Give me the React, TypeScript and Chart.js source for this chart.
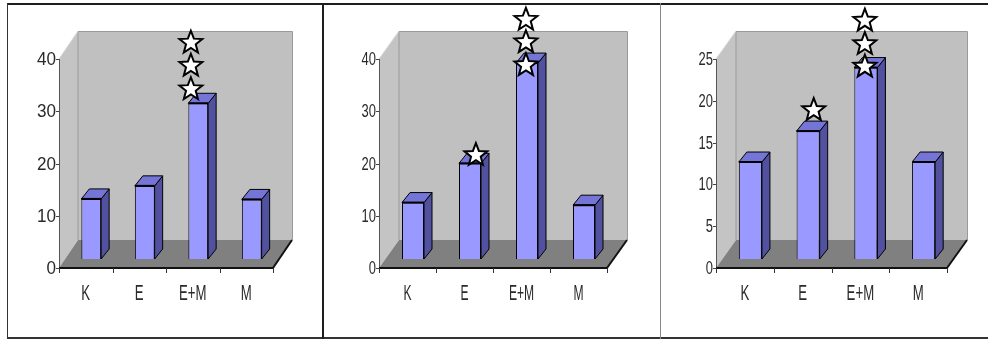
import React, { useEffect, useRef } from 'react';
import { Chart, registerables } from 'chart.js';

Chart.register(...registerables);

// Shared categories
const categories = ['K', 'E', 'E+M', 'M'];

// Bar values per panel
const valuesA = [11.5, 14.0, 29.8, 11.4];
const valuesB = [10.8, 18.3, 37.5, 10.3];
const valuesC = [11.6, 15.3, 22.9, 11.6];

// Value axis ranges
const axisMaxA = 40;
const axisStepA = 10;
const axisMaxB = 40;
const axisStepB = 10;
const axisMaxC = 25;
const axisStepC = 5;

// Star markers (x in category units, y in value units)
const starsA = [
  { x: 2.12, y: 34.4 },
  { x: 2.12, y: 38.9 },
  { x: 2.12, y: 43.3 },
];
const starsB = [
  { x: 1.1, y: 21.8 },
  { x: 2.27, y: 39.0 },
  { x: 2.27, y: 43.4 },
  { x: 2.27, y: 47.7 },
];
const starsC = [
  { x: 1.09, y: 19.0 },
  { x: 2.27, y: 24.2 },
  { x: 2.27, y: 26.9 },
  { x: 2.27, y: 29.7 },
];

type PanelSpec = {
  left: number;
  width: number;
  values: number[];
  stars: { x: number; y: number }[];
  max: number;
  step: number;
  pad: { left: number; right: number; top: number; bottom: number };
  barPct: number;
  wall: [number, number];
  yLabelScale: number;
  xLabelScale: number;
};

const panels: PanelSpec[] = [
  {
    left: 8, width: 314, values: valuesA, stars: starsA, max: axisMaxA, step: axisStepA,
    pad: { left: 51, right: 49, top: 59, bottom: 71 }, barPct: 0.37, wall: [19, -28],
    yLabelScale: 0.95, xLabelScale: 0.6,
  },
  {
    left: 324, width: 336, values: valuesB, stars: starsB, max: axisMaxB, step: axisStepB,
    pad: { left: 55, right: 53, top: 59, bottom: 71 }, barPct: 0.386, wall: [20, -28],
    yLabelScale: 0.72, xLabelScale: 0.55,
  },
  {
    left: 661, width: 327, values: valuesC, stars: starsC, max: axisMaxC, step: axisStepC,
    pad: { left: 55, right: 41, top: 59, bottom: 71 }, barPct: 0.4, wall: [20, -28],
    yLabelScale: 0.72, xLabelScale: 0.6,
  },
];

// Offset of the bar row inside the floor depth, and the bars' own depth
const BAR_SHIFT: [number, number] = [5.5, -9];
const BAR_DEPTH: [number, number] = [8, -10];

function makePattern(ctx: CanvasRenderingContext2D, a: string, b: string) {
  const c = document.createElement('canvas');
  c.width = 2;
  c.height = 2;
  const g = c.getContext('2d')!;
  g.fillStyle = a;
  g.fillRect(0, 0, 2, 2);
  g.fillStyle = b;
  g.fillRect(0, 0, 1, 1);
  g.fillRect(1, 1, 1, 1);
  return ctx.createPattern(c, 'repeat')!;
}

function drawStar(ctx: CanvasRenderingContext2D, cx: number, cy: number) {
  const R = 12;
  const r = 5.1;
  ctx.beginPath();
  for (let i = 0; i < 10; i++) {
    const ang = -Math.PI / 2 + (i * Math.PI) / 5;
    const rad = i % 2 === 0 ? R : r;
    const px = cx + rad * Math.cos(ang);
    const py = cy + 1 + rad * Math.sin(ang);
    if (i === 0) ctx.moveTo(px, py);
    else ctx.lineTo(px, py);
  }
  ctx.closePath();
  ctx.fillStyle = '#ffffff';
  ctx.fill();
  ctx.lineWidth = 2;
  ctx.strokeStyle = '#000000';
  ctx.lineJoin = 'miter';
  ctx.stroke();
}

const scene3d = {
  id: 'scene3d',
  beforeDatasetsDraw(chart: any, _args: any, opts: any) {
    const ctx: CanvasRenderingContext2D = chart.ctx;
    const { left: L, right: R, top: T, bottom: B } = chart.chartArea;
    const [wx, wy] = opts.wall;
    ctx.save();

    // side wall
    ctx.fillStyle = '#c4c4c4';
    ctx.beginPath();
    ctx.moveTo(L, T);
    ctx.lineTo(L + wx, T + wy);
    ctx.lineTo(L + wx, B + wy);
    ctx.lineTo(L, B);
    ctx.closePath();
    ctx.fill();

    // back wall
    ctx.fillStyle = '#c0c0c0';
    ctx.fillRect(L + wx, T + wy, R - L, B - T);
    ctx.strokeStyle = '#9a9a9a';
    ctx.lineWidth = 1;
    ctx.beginPath();
    ctx.moveTo(L + wx, B + wy);
    ctx.lineTo(L + wx, T + wy + 0.5);
    ctx.lineTo(R + wx + 0.5, T + wy + 0.5);
    ctx.lineTo(R + wx + 0.5, B + wy);
    ctx.stroke();

    // side wall top edge
    ctx.strokeStyle = '#d8d8d8';
    ctx.beginPath();
    ctx.moveTo(L, T);
    ctx.lineTo(L + wx, T + wy);
    ctx.stroke();

    // floor
    ctx.fillStyle = '#808080';
    ctx.beginPath();
    ctx.moveTo(L, B);
    ctx.lineTo(L + wx, B + wy);
    ctx.lineTo(R + wx, B + wy);
    ctx.lineTo(R, B);
    ctx.closePath();
    ctx.fill();

    // floor right edge
    ctx.strokeStyle = '#111';
    ctx.lineWidth = 2;
    ctx.beginPath();
    ctx.moveTo(R, B);
    ctx.lineTo(R + wx, B + wy);
    ctx.stroke();

    // value axis
    ctx.strokeStyle = '#555';
    ctx.lineWidth = 1;
    ctx.beginPath();
    ctx.moveTo(L + 0.5, T);
    ctx.lineTo(L + 0.5, B);
    ctx.stroke();

    // category axis
    ctx.strokeStyle = '#111';
    ctx.lineWidth = 2;
    ctx.beginPath();
    ctx.moveTo(L, B);
    ctx.lineTo(R, B);
    ctx.stroke();

    const yScale = chart.scales.y;
    const xScale = chart.scales.x;

    // value ticks and labels
    ctx.lineWidth = 1;
    ctx.strokeStyle = '#444';
    ctx.fillStyle = '#2a2a2a';
    ctx.font = '18px "Liberation Sans", Arial, sans-serif';
    ctx.textAlign = 'right';
    ctx.textBaseline = 'middle';
    yScale.ticks.forEach((t: any) => {
      const py = Math.round(yScale.getPixelForValue(t.value)) + 0.5;
      ctx.beginPath();
      ctx.moveTo(L - 3, py);
      ctx.lineTo(L, py);
      ctx.stroke();
      ctx.save();
      ctx.translate(L - 3, py + 1);
      ctx.scale(opts.yLabelScale, 1);
      ctx.fillText(String(t.value), 0, 0);
      ctx.restore();
    });

    // category boundaries and labels
    const n = chart.data.labels.length;
    const half = (R - L) / (2 * n);
    ctx.strokeStyle = '#333';
    for (let i = 0; i <= n; i++) {
      const px = Math.round(xScale.getPixelForValue(Math.min(i, n - 1)) + (i === n ? half : -half)) + 0.5;
      ctx.beginPath();
      ctx.moveTo(px, B);
      ctx.lineTo(px, B + 5);
      ctx.stroke();
    }
    ctx.font = '22px "Liberation Sans", Arial, sans-serif';
    ctx.textAlign = 'center';
    ctx.textBaseline = 'alphabetic';
    chart.data.labels.forEach((lab: string, i: number) => {
      const px = xScale.getPixelForValue(i);
      ctx.save();
      ctx.translate(px, B + 32);
      ctx.scale(opts.xLabelScale, 1);
      ctx.fillText(lab, 0, 0);
      ctx.restore();
    });

    ctx.restore();
  },
  beforeDatasetDraw(chart: any, args: any) {
    if (args.index !== 0) return;
    chart.ctx.save();
    chart.ctx.translate(BAR_SHIFT[0], BAR_SHIFT[1]);
  },
  afterDatasetDraw(chart: any, args: any) {
    if (args.index !== 0) return;
    const ctx: CanvasRenderingContext2D = chart.ctx;
    const sidePat = makePattern(ctx, '#3f3f8e', '#6464b0');
    const topPat = makePattern(ctx, '#6a6acc', '#8080e4');
    const [dx, dy] = BAR_DEPTH;
    args.meta.data.forEach((el: any) => {
      const l = el.x - el.width / 2;
      const r = el.x + el.width / 2;
      const t = el.y;
      const b = el.base;
      ctx.lineWidth = 1;
      ctx.strokeStyle = '#000';
      // side face
      ctx.fillStyle = sidePat;
      ctx.beginPath();
      ctx.moveTo(r, t);
      ctx.lineTo(r + dx, t + dy);
      ctx.lineTo(r + dx, b + dy);
      ctx.lineTo(r, b);
      ctx.closePath();
      ctx.fill();
      ctx.stroke();
      // top face
      ctx.fillStyle = topPat;
      ctx.beginPath();
      ctx.moveTo(l, t);
      ctx.lineTo(l + dx, t + dy);
      ctx.lineTo(r + dx, t + dy);
      ctx.lineTo(r, t);
      ctx.closePath();
      ctx.fill();
      ctx.stroke();
      // front top edge
      ctx.lineWidth = 2;
      ctx.beginPath();
      ctx.moveTo(l, t);
      ctx.lineTo(r, t);
      ctx.stroke();
    });
    ctx.restore();
  },
  afterDatasetsDraw(chart: any, _args: any, opts: any) {
    // star markers placed on the value scale
    const ctx: CanvasRenderingContext2D = chart.ctx;
    const xs = chart.scales.xs;
    const ys = chart.scales.y;
    ctx.save();
    (opts.stars as { x: number; y: number }[]).forEach((s) => {
      drawStar(ctx, xs.getPixelForValue(s.x), ys.getPixelForValue(s.y));
    });
    ctx.restore();
  },
};

function Panel({ spec }: { spec: PanelSpec }) {
  const ref = useRef<HTMLCanvasElement | null>(null);
  useEffect(() => {
    if (!ref.current) return;
    const chart = new Chart(ref.current, {
      type: 'bar',
      data: {
        labels: categories,
        datasets: [
          {
            data: spec.values,
            backgroundColor: '#9999ff',
            borderColor: '#000',
            borderWidth: 1,
            barPercentage: spec.barPct,
            categoryPercentage: 1,
            clip: false,
          } as any,
        ],
      },
      options: {
        animation: false,
        responsive: false,
        maintainAspectRatio: false,
        events: [],
        layout: { padding: spec.pad },
        plugins: {
          legend: { display: false },
          tooltip: { enabled: false },
          scene3d: {
            wall: spec.wall,
            stars: spec.stars,
            yLabelScale: spec.yLabelScale,
            xLabelScale: spec.xLabelScale,
          },
        } as any,
        scales: {
          x: { type: 'category', display: false, offset: true },
          xs: { type: 'linear', display: false, min: -0.5, max: 3.5 },
          y: { type: 'linear', display: false, min: 0, max: spec.max, ticks: { stepSize: spec.step } },
        },
      },
      plugins: [scene3d],
    });
    return () => chart.destroy();
  }, [spec]);
  return (
    <canvas
      ref={ref}
      width={spec.width}
      height={339}
      style={{ position: 'absolute', left: spec.left, top: 0, width: spec.width, height: 339 }}
    />
  );
}

export default function App() {
  const line = (s: React.CSSProperties) => (
    <div style={{ position: 'absolute', zIndex: 2, ...s }} />
  );
  return (
    <div style={{ position: 'fixed', left: 0, top: 0, width: 988, height: 339, background: '#fff', overflow: 'hidden' }}>
      {panels.map((p, i) => (
        <Panel key={i} spec={p} />
      ))}
      {line({ left: 7, top: 3, width: 981, height: 2, background: '#1e1e1e' })}
      {line({ left: 7, top: 3, width: 1, height: 336, background: '#333' })}
      {line({ left: 7, top: 337, width: 981, height: 2, background: '#333' })}
      {line({ left: 322, top: 3, width: 2, height: 336, background: '#1e1e1e' })}
      {line({ left: 660, top: 3, width: 1, height: 336, background: '#888' })}
    </div>
  );
}
